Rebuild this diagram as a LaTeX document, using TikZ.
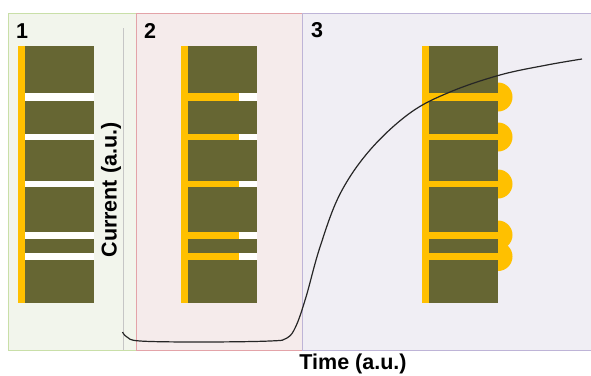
\documentclass[tikz,border=0pt]{standalone}
\usepackage{fontspec}
\setmainfont{Liberation Sans}
\definecolor{olive}{RGB}{102,102,51}
\definecolor{gold}{RGB}{255,192,0}
\definecolor{greenbg}{RGB}{242,245,236}
\definecolor{greenln}{RGB}{201,223,168}
\definecolor{redbg}{RGB}{245,235,235}
\definecolor{redln}{RGB}{227,163,168}
\definecolor{purplebg}{RGB}{240,238,244}
\definecolor{purpleln}{RGB}{190,180,215}

\begin{document}
\begin{tikzpicture}[x=1pt,y=-1pt,
  lbl/.style={font=\fontsize{21.5}{24}\selectfont\bfseries},
  panel/.style={line width=0.8pt}]
\useasboundingbox (0,0) rectangle (591,375);
% the three stages
\draw[panel,fill=greenbg,draw=greenln] (8,13) rectangle (136,350);
\draw[panel,fill=redbg,draw=redln] (136,13) rectangle (302,350);
\draw[panel,fill=purplebg,draw=purpleln] (302,13) -- (600,13) -- (600,350) -- (302,350) -- cycle;
\node[lbl] (n1) at (22,31) {1};
\node[lbl] (n2) at (150,31) {2};
\node[lbl] (n3) at (317,30) {3};

% stage 1: empty pores
\fill[gold] (18,46) rectangle (25,303);
\fill[olive] (25,46) rectangle (94,303);
\foreach \a/\b in {93/101,133.5/140,181/187,232/238.5,253/260}
  \fill[white] (25,\a) rectangle (94,\b);

% stage 2: pores partly filled
\fill[gold] (181,46) rectangle (188,303);
\fill[olive] (188,46) rectangle (257,303);
\foreach \a/\b in {93/101,133.5/140,181/187,232/238.5,253/260}{
  \fill[gold] (188,\a) rectangle (239,\b);
  \fill[white] (239,\a) rectangle (257,\b);
}

% stage 3: overgrowth caps
\foreach \c in {97,137,184,235,256.5}
  \fill[gold] (498,\c) circle (14.5);
\fill[gold] (422,46) rectangle (429,303);
\fill[olive] (429,46) rectangle (498,303);
\foreach \a/\b in {93/101,133.5/140,181/187,232/238.5,253/260}
  \fill[gold] (429,\a) rectangle (498,\b);

% axes
\coordinate (ytop) at (123,28);
\coordinate (ybot) at (123,350);
\draw[gray!45,line width=1pt] (ytop) -- (ybot);
\node[lbl,rotate=90] (ylab) at (111,190) {Current (a.u.)};
\node[lbl] (xlab) at (353,364) {Time (a.u.)};

% current transient
\draw[line width=1.2pt,black!85] plot[smooth,tension=0.6] coordinates {
  (122.5,332) (127,337) (140,341) (200,342) (270,341) (287,338)
  (296,326) (306,297) (320,247) (340,194) (370,150)
  (410,113) (450,92) (500,75) (547,65) (582,59)};
\end{tikzpicture}
\end{document}
